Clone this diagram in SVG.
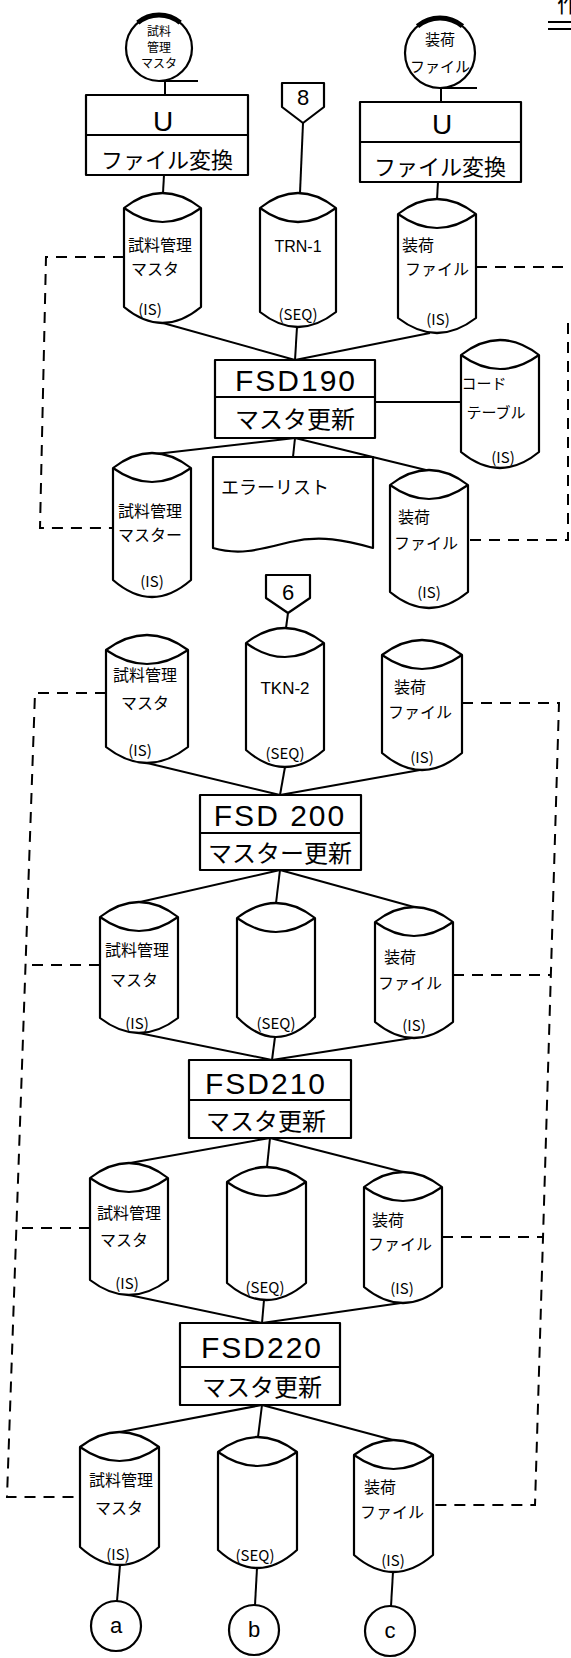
<svg xmlns="http://www.w3.org/2000/svg" width="571" height="1658" viewBox="0 0 571 1658">
<style>
.s{fill:#fff;stroke:#000;stroke-width:2.2;stroke-linejoin:round}
.n{fill:none;stroke:#000;stroke-width:2.2}
.k{fill:none;stroke:#000;stroke-width:5}
.l{fill:none;stroke:#000;stroke-width:2}
.d{fill:none;stroke:#000;stroke-width:2;stroke-dasharray:11 8}
.t{font-family:"Noto Sans CJK JP","Liberation Sans",sans-serif;fill:#000;text-anchor:middle}
.c{font-size:16px}
.p{font-size:15px}
.cs{font-size:12px}
.b{font-family:"Liberation Sans","Noto Sans CJK JP",sans-serif;font-size:30px;letter-spacing:2px}
.m{font-size:24px}
.v{font-size:22px}
</style>
<rect width="571" height="1658" fill="#fff"/>
<g id="corner">
<text class="t" x="568" y="12" style="font-size:22px">作</text>
<line class="l" x1="548" y1="22" x2="571" y2="22"/>
<line class="l" x1="548" y1="29" x2="571" y2="29"/>
</g>
<g id="connectors">
<line class="l" x1="165" y1="81" x2="165" y2="95"/>
<line class="l" x1="164" y1="175" x2="163" y2="193"/>
<line class="l" x1="441" y1="88" x2="441" y2="102"/>
<line class="l" x1="438" y1="182" x2="437" y2="199"/>
<line class="l" x1="303" y1="123" x2="300" y2="193"/>
<line class="l" x1="163" y1="323" x2="295" y2="360"/>
<line class="l" x1="297" y1="327" x2="295" y2="360"/>
<line class="l" x1="430" y1="333" x2="295" y2="360"/>
<line class="l" x1="375" y1="402" x2="461" y2="402"/>
<line class="l" x1="295" y1="438" x2="147" y2="455"/>
<line class="l" x1="295" y1="438" x2="293" y2="457"/>
<line class="l" x1="295" y1="438" x2="430" y2="471"/>
<line class="l" x1="288" y1="613" x2="286" y2="628"/>
<line class="l" x1="147" y1="763" x2="280" y2="795"/>
<line class="l" x1="285" y1="767" x2="280" y2="795"/>
<line class="l" x1="420" y1="770" x2="280" y2="795"/>
<line class="l" x1="280" y1="870" x2="140" y2="902"/>
<line class="l" x1="280" y1="870" x2="276" y2="903"/>
<line class="l" x1="280" y1="870" x2="414" y2="907"/>
<line class="l" x1="139" y1="1033" x2="272" y2="1060"/>
<line class="l" x1="275" y1="1037" x2="272" y2="1060"/>
<line class="l" x1="412" y1="1038" x2="272" y2="1060"/>
<line class="l" x1="270" y1="1138" x2="130" y2="1163"/>
<line class="l" x1="270" y1="1138" x2="267" y2="1167"/>
<line class="l" x1="270" y1="1138" x2="403" y2="1172"/>
<line class="l" x1="129" y1="1295" x2="262" y2="1323"/>
<line class="l" x1="264" y1="1300" x2="262" y2="1323"/>
<line class="l" x1="401" y1="1303" x2="262" y2="1323"/>
<line class="l" x1="262" y1="1405" x2="120" y2="1432"/>
<line class="l" x1="262" y1="1405" x2="258" y2="1437"/>
<line class="l" x1="262" y1="1405" x2="393" y2="1440"/>
<line class="l" x1="120" y1="1565" x2="117" y2="1601"/>
<line class="l" x1="257" y1="1568" x2="255" y2="1605"/>
<line class="l" x1="393" y1="1572" x2="391" y2="1606"/>
<path class="d" d="M124,257 H46 L40,528 H113"/>
<path class="d" d="M476,267 H571"/>
<path class="d" d="M568,323 V540 H468"/>
<path class="d" d="M106,693 H35 L7,1497 H80"/>
<path class="d" d="M100,965 H24"/>
<path class="d" d="M90,1228 H16"/>
<path class="d" d="M462,703 H559 L535,1505 H433"/>
<path class="d" d="M453,975 H550"/>
<path class="d" d="M442,1237 H543"/>
</g>
<g id="tape-master-in">
<circle class="s" cx="159" cy="48" r="33"/>
<path class="k" d="M137.8,22.7 A33 33 0 0 1 180.2,22.7"/>
<line class="n" x1="159" y1="81" x2="198" y2="81"/>
<text class="t cs" x="159" y="36">試料</text>
<text class="t cs" x="159" y="52">管理</text>
<text class="t cs" x="159" y="68">マスタ</text>
</g>
<g id="tape-file-in">
<circle class="s" cx="440" cy="53" r="35"/>
<path class="k" d="M417.5,26.2 A35 35 0 0 1 462.5,26.2"/>
<line class="n" x1="440" y1="88" x2="477" y2="88"/>
<text class="t p" x="440" y="45">装荷</text>
<text class="t p" x="440" y="72">ファイル</text>
</g>
<g id="conv-left">
<rect class="s" x="86" y="95" width="162" height="80"/>
<line class="n" x1="86" y1="135" x2="248" y2="135"/>
<text class="t" x="163" y="131" style="font-family:'Liberation Sans',sans-serif;font-size:28px">U</text>
<text class="t v" x="167" y="168">ファイル変換</text>
</g>
<g id="conv-right">
<rect class="s" x="360" y="102" width="161" height="80"/>
<line class="n" x1="360" y1="142" x2="521" y2="142"/>
<text class="t" x="442" y="134" style="font-family:'Liberation Sans',sans-serif;font-size:28px">U</text>
<text class="t v" x="440" y="175">ファイル変換</text>
</g>
<g id="conn-8">
<path class="s" d="M282,83 H324 V107 L303,123 L282,107 Z"/>
<text class="t" x="303" y="105" style="font-family:'Liberation Sans',sans-serif;font-size:22px">8</text>
</g>
<g id="db1-master">
<path class="s" d="M124,208 Q162.5,178 201,208 V307 Q162.5,339 124,307 Z"/>
<path class="n" d="M124,208 Q162.5,236 201,208"/>
<text class="t c" x="160" y="251">試料管理</text>
<text class="t c" x="155" y="275">マスタ</text>
<text class="t p" x="150" y="315">(IS)</text>
</g>
<g id="db1-trn">
<path class="s" d="M260,208 Q298,178 336,208 V312 Q298,342 260,312 Z"/>
<path class="n" d="M260,208 Q298,236 336,208"/>
<text class="t" x="298" y="252" style="font-family:'Liberation Sans',sans-serif;font-size:16px">TRN-1</text>
<text class="t p" x="298" y="320">(SEQ)</text>
</g>
<g id="db1-file">
<path class="s" d="M398,214 Q437,184 476,214 V318 Q437,348 398,318 Z"/>
<path class="n" d="M398,214 Q437,242 476,214"/>
<text class="t c" x="418" y="251">装荷</text>
<text class="t c" x="437" y="275">ファイル</text>
<text class="t p" x="438" y="325">(IS)</text>
</g>
<g id="fsd190">
<rect class="s" x="215" y="360" width="160" height="78"/>
<line class="n" x1="215" y1="397" x2="375" y2="397"/>
<text class="t b" x="296" y="391">FSD190</text>
<text class="t m" x="295" y="428">マスタ更新</text>
</g>
<g id="code-table">
<path class="s" d="M461,355 Q500,325 539,355 V452 Q500,484 461,452 Z"/>
<path class="n" d="M461,355 Q500,383 539,355"/>
<text class="t p" x="484" y="389">コード</text>
<text class="t p" x="496" y="418">テーブル</text>
<text class="t p" x="503" y="463">(IS)</text>
</g>
<g id="db1-master-out">
<path class="s" d="M113,468 Q152,438 191,468 V580 Q152,614 113,580 Z"/>
<path class="n" d="M113,468 Q152,496 191,468"/>
<text class="t c" x="150" y="517">試料管理</text>
<text class="t c" x="150" y="541">マスター</text>
<text class="t p" x="152" y="587">(IS)</text>
</g>
<g id="error-list">
<path class="s" d="M213,457 H373 V548 C345,540 320,535 290,542 C262,549 240,556 213,548 Z"/>
<text class="t" x="275" y="494" style="font-size:18px">エラーリスト</text>
</g>
<g id="db1-file-out">
<path class="s" d="M390,485 Q429,455 468,485 V592 Q429,624 390,592 Z"/>
<path class="n" d="M390,485 Q429,513 468,485"/>
<text class="t c" x="414" y="523">装荷</text>
<text class="t c" x="426" y="549">ファイル</text>
<text class="t p" x="429" y="598">(IS)</text>
</g>
<g id="conn-6">
<path class="s" d="M266,575 H310 V598 L288,613 L266,598 Z"/>
<text class="t" x="288" y="600" style="font-family:'Liberation Sans',sans-serif;font-size:22px">6</text>
</g>
<g id="db2-master">
<path class="s" d="M106,650 Q147,620 188,650 V747 Q147,779 106,747 Z"/>
<path class="n" d="M106,650 Q147,678 188,650"/>
<text class="t c" x="145" y="681">試料管理</text>
<text class="t c" x="145" y="709">マスタ</text>
<text class="t p" x="140" y="756">(IS)</text>
</g>
<g id="db2-tkn">
<path class="s" d="M246,643 Q285,613 324,643 V750 Q285,784 246,750 Z"/>
<path class="n" d="M246,643 Q285,671 324,643"/>
<text class="t" x="285" y="694" style="font-family:'Liberation Sans',sans-serif;font-size:17px">TKN-2</text>
<text class="t p" x="285" y="759">(SEQ)</text>
</g>
<g id="db2-file">
<path class="s" d="M382,655 Q422,625 462,655 V753 Q422,787 382,753 Z"/>
<path class="n" d="M382,655 Q422,683 462,655"/>
<text class="t c" x="410" y="693">装荷</text>
<text class="t c" x="420" y="718">ファイル</text>
<text class="t p" x="422" y="763">(IS)</text>
</g>
<g id="fsd200">
<rect class="s" x="200" y="795" width="161" height="75"/>
<line class="n" x1="200" y1="833" x2="361" y2="833"/>
<text class="t b" x="280" y="826">FSD 200</text>
<text class="t m" x="280" y="862">マスター更新</text>
</g>
<g id="db3-master">
<path class="s" d="M100,917 Q139,887 178,917 V1018 Q139,1048 100,1018 Z"/>
<path class="n" d="M100,917 Q139,945 178,917"/>
<text class="t c" x="137" y="956">試料管理</text>
<text class="t c" x="134" y="986">マスタ</text>
<text class="t p" x="137" y="1029">(IS)</text>
</g>
<g id="db3-seq">
<path class="s" d="M237,918 Q276,888 315,918 V1017 Q276,1057 237,1017 Z"/>
<path class="n" d="M237,918 Q276,946 315,918"/>
<text class="t p" x="276" y="1029">(SEQ)</text>
</g>
<g id="db3-file">
<path class="s" d="M375,922 Q414,892 453,922 V1022 Q414,1054 375,1022 Z"/>
<path class="n" d="M375,922 Q414,950 453,922"/>
<text class="t c" x="400" y="963">装荷</text>
<text class="t c" x="410" y="989">ファイル</text>
<text class="t p" x="414" y="1031">(IS)</text>
</g>
<g id="fsd210">
<rect class="s" x="189" y="1060" width="162" height="78"/>
<line class="n" x1="189" y1="1100" x2="351" y2="1100"/>
<text class="t b" x="266" y="1094">FSD210</text>
<text class="t m" x="266" y="1130">マスタ更新</text>
</g>
<g id="db4-master">
<path class="s" d="M90,1178 Q129,1148 168,1178 V1280 Q129,1310 90,1280 Z"/>
<path class="n" d="M90,1178 Q129,1206 168,1178"/>
<text class="t c" x="129" y="1219">試料管理</text>
<text class="t c" x="124" y="1246">マスタ</text>
<text class="t p" x="127" y="1289">(IS)</text>
</g>
<g id="db4-seq">
<path class="s" d="M227,1182 Q266.5,1152 306,1182 V1283 Q266.5,1317 227,1283 Z"/>
<path class="n" d="M227,1182 Q266.5,1210 306,1182"/>
<text class="t p" x="265" y="1293">(SEQ)</text>
</g>
<g id="db4-file">
<path class="s" d="M364,1187 Q403,1157 442,1187 V1287 Q403,1319 364,1287 Z"/>
<path class="n" d="M364,1187 Q403,1215 442,1187"/>
<text class="t c" x="388" y="1226">装荷</text>
<text class="t c" x="400" y="1250">ファイル</text>
<text class="t p" x="402" y="1294">(IS)</text>
</g>
<g id="fsd220">
<rect class="s" x="180" y="1323" width="160" height="82"/>
<line class="n" x1="180" y1="1367" x2="340" y2="1367"/>
<text class="t b" x="262" y="1358">FSD220</text>
<text class="t m" x="262" y="1396">マスタ更新</text>
</g>
<g id="db5-master">
<path class="s" d="M80,1447 Q119.5,1417 159,1447 V1547 Q119.5,1583 80,1547 Z"/>
<path class="n" d="M80,1447 Q119.5,1475 159,1447"/>
<text class="t c" x="121" y="1486">試料管理</text>
<text class="t c" x="119" y="1514">マスタ</text>
<text class="t p" x="118" y="1560">(IS)</text>
</g>
<g id="db5-seq">
<path class="s" d="M218,1452 Q257.5,1422 297,1452 V1550 Q257.5,1586 218,1550 Z"/>
<path class="n" d="M218,1452 Q257.5,1480 297,1452"/>
<text class="t p" x="255" y="1561">(SEQ)</text>
</g>
<g id="db5-file">
<path class="s" d="M354,1455 Q393.5,1425 433,1455 V1555 Q393.5,1589 354,1555 Z"/>
<path class="n" d="M354,1455 Q393.5,1483 433,1455"/>
<text class="t c" x="380" y="1493">装荷</text>
<text class="t c" x="392" y="1518">ファイル</text>
<text class="t p" x="393" y="1566">(IS)</text>
</g>
<g id="conn-a">
<circle class="s" cx="116" cy="1626" r="25"/>
<text class="t" x="116" y="1633" style="font-family:'Liberation Sans',sans-serif;font-size:22px">a</text>
</g>
<g id="conn-b">
<circle class="s" cx="254" cy="1630" r="25"/>
<text class="t" x="254" y="1637" style="font-family:'Liberation Sans',sans-serif;font-size:22px">b</text>
</g>
<g id="conn-c">
<circle class="s" cx="390" cy="1631" r="25"/>
<text class="t" x="390" y="1638" style="font-family:'Liberation Sans',sans-serif;font-size:22px">c</text>
</g>
</svg>
